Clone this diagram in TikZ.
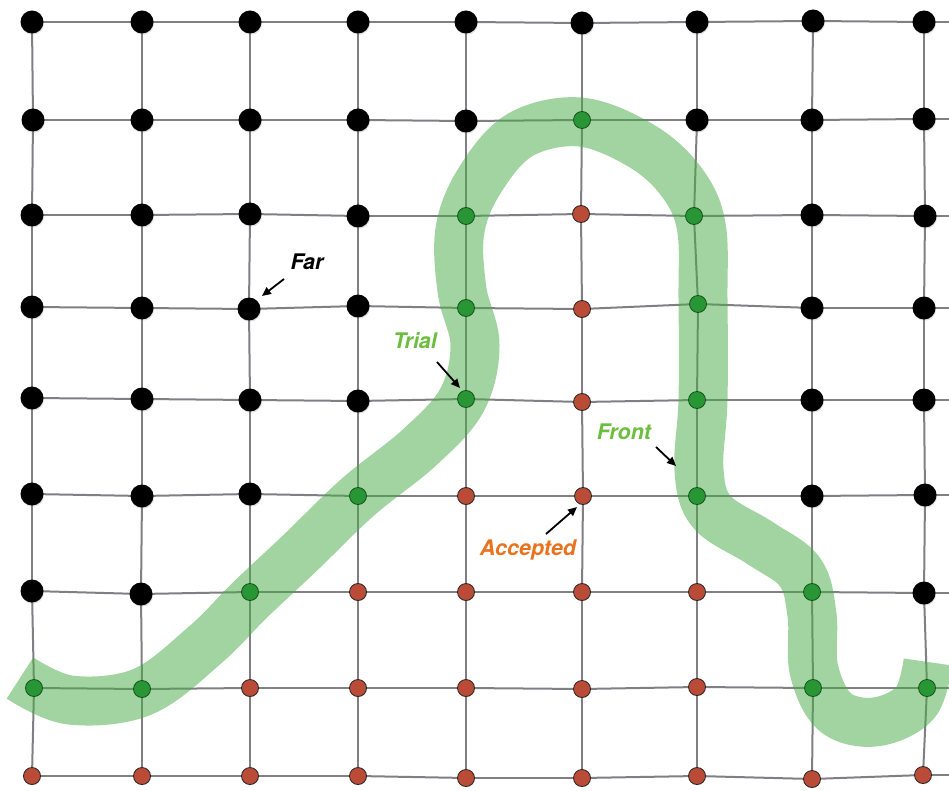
\documentclass[tikz,border=0pt]{standalone}
\usepackage{fontspec}
\setsansfont{TeX Gyre Heros}
\usetikzlibrary{arrows.meta,shadows}
\definecolor{gridgray}{RGB}{128,128,132}
\definecolor{bandgreen}{RGB}{70,170,70}
\definecolor{trialgreen}{RGB}{40,150,52}
\definecolor{trialborder}{RGB}{22,80,28}
\definecolor{accred}{RGB}{185,75,55}
\definecolor{labgreen}{RGB}{108,190,62}
\definecolor{laborange}{RGB}{232,114,30}
\tikzset{
  gridline/.style={draw=gridgray,line width=2pt},
  dotf/.style={circle,fill=black,minimum size=23pt,inner sep=0pt,
    drop shadow={opacity=0.25,shadow xshift=0.6pt,shadow yshift=-1.2pt}},
  dott/.style={circle,fill=trialgreen,draw=trialborder,line width=0.8pt,minimum size=17pt,inner sep=0pt},
  dota/.style={circle,fill=accred,draw=black!85,line width=0.8pt,minimum size=17pt,inner sep=0pt,
    drop shadow={opacity=0.2,shadow xshift=0.4pt,shadow yshift=-0.8pt}},
  band/.style={draw=bandgreen,draw opacity=0.5,line width=49pt,line cap=butt,line join=round},
  lab/.style={font=\fontsize{21.5}{25}\selectfont\sffamily\bfseries\itshape,inner sep=1pt},
  pointer/.style={draw=black,line width=1.8pt,-{Triangle[length=9pt,width=8pt]}}
}
\begin{document}
\begin{tikzpicture}[x=1pt,y=-1pt]
\useasboundingbox (0,0) rectangle (949,791);
\coordinate (E) at (949,0);
% dot positions (row by row)
\foreach \rowlist [count=\r from 0] in {
 {32/22/f,142/22/f,250/22/f,358/22/f,466/22/f,582/23/f,697/22/f,813/21/f,924/22/f},
 {33/120/f,142/120/f,250/120/f,358/120/f,466/121/f,582/120/t,697/120/f,812/120/f,924/119/f},
 {32/215/f,142/215/f,250/214/f,358/216/f,466/216/t,581/214/a,694/216/t,812/215/f,925/216/f},
 {32/307/f,142/308/f,249/309/f,358/306/f,466/308/t,582/309/a,698/304/t,812/308/f,924/308/f},
 {32/398/f,142/399/f,250/400/f,358/401/f,466/399/t,582/402/a,697/400/t,812/400/f,924/400/f},
 {32/494/f,142/496/f,250/494/f,358/496/t,466/496/a,583/496/a,697/496/t,812/496/f,925/495/f},
 {32/591/f,141/594/f,250/592/t,358/592/a,466/592/a,582/592/a,697/592/a,812/592/t,924/593/f},
 {34/688/t,142/689/t,250/688/a,358/688/a,466/688/a,582/689/a,697/687/a,813/688/t,927/688/t},
 {32/776/a,142/776/a,250/776/a,358/776/a,466/778/a,582/778/a,697/776/a,812/779/a,923/775/a}}
{
  \foreach \x/\y/\t [count=\c from 0] in \rowlist {
    \coordinate (p\r-\c) at (\x,\y);
    \expandafter\xdef\csname dtype\r-\c\endcsname{\t}
  }
}
% grid lines
\foreach \r in {0,...,8} {
  \foreach \c [evaluate=\c as \cn using int(\c+1)] in {0,...,7} {
    \draw[gridline] (p\r-\c) -- (p\r-\cn);
  }
  \draw[gridline] (p\r-8) -- (p\r-8 -| E);
}
\foreach \c in {0,...,8} {
  \foreach \r [evaluate=\r as \rn using int(\r+1)] in {0,...,7} {
    \draw[gridline] (p\r-\c) -- (p\rn-\c);
  }
}
% front band
\draw[band] plot[smooth,tension=0.6] coordinates {
 (20,678) (70,700) (142,692) (205,645) (250,600) (300,553) (358,497)
 (420,447) (462,400) (475,345) (462,290) (460,230) (480,180) (520,135)
 (580,122) (640,145) (680,180) (701,225) (703,300) (703,400) (699,470)
 (712,512) (760,543) (800,572) (812,615) (814,670) (835,712) (875,722) (915,703) (928,662)};
% dots
\foreach \r in {0,...,8} {
  \foreach \c in {0,...,8} {
    \edef\tt{\csname dtype\r-\c\endcsname}
    \node[dot\tt] (n\r-\c) at (p\r-\c) {};
  }
}
% labels
\node[lab,text=black] (far) at (307,262) {Far};
\node[lab,text=labgreen] (trial) at (415,341) {Trial};
\node[lab,text=labgreen] (front) at (624,432) {Front};
\node[lab,text=laborange] (acc) at (528,550) {Accepted};
\coordinate (farA) at (284,279);
\coordinate (farB) at (262,296);
\coordinate (trialA) at (437,362);
\coordinate (trialB) at (460,388);
\coordinate (frontA) at (656,447);
\coordinate (frontB) at (676,466);
\coordinate (accA) at (546,534);
\coordinate (accB) at (577,507);
\draw[pointer] (farA) -- (farB);
\draw[pointer] (trialA) -- (trialB);
\draw[pointer] (frontA) -- (frontB);
\draw[pointer] (accA) -- (accB);
\end{tikzpicture}
\end{document}
